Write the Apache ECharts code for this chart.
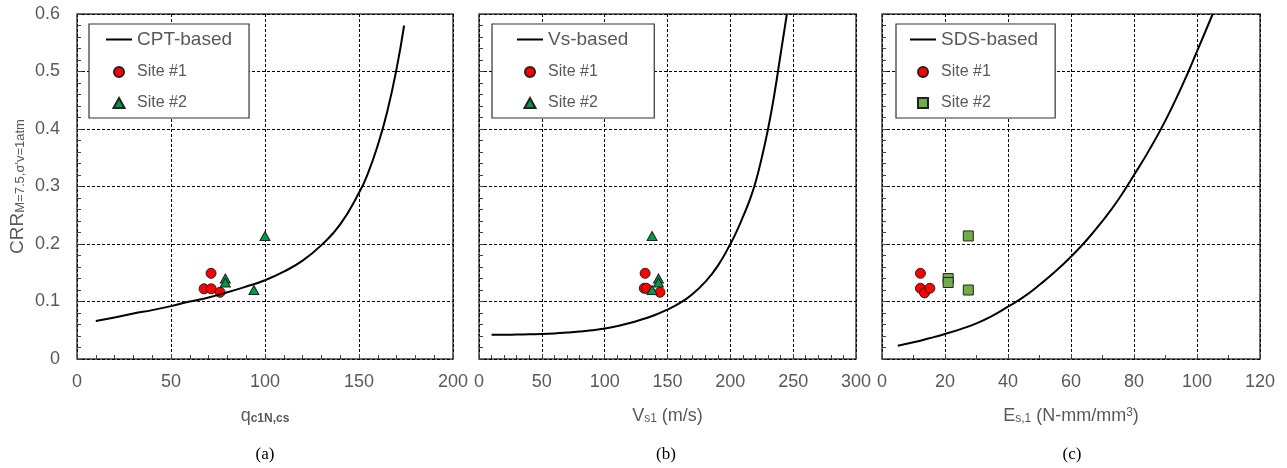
<!DOCTYPE html>
<html>
<head>
<meta charset="utf-8">
<script src="https://cdn.jsdelivr.net/npm/echarts@6/dist/echarts.min.js"></script>
<style>
  html, body { margin: 0; padding: 0; background: #fff; }
  #chart { width: 1287px; height: 468px; }
</style>
</head>
<body>
<div id="chart"></div>
<script>
// CRR axis (shared by all three panels)
const crrTicks = [0, 0.1, 0.2, 0.3, 0.4, 0.5, 0.6]

// (a) CPT-based
const qTicks = [0, 50, 100, 150, 200]
const cptCurve = [
    [10, 0.066], [20, 0.072], [30, 0.079], [40, 0.085], [50, 0.092], [60, 0.1],
    [70, 0.107], [80, 0.116], [90, 0.126], [100, 0.137], [110, 0.152], [120, 0.171],
    [130, 0.198], [140, 0.234], [150, 0.289], [155, 0.325], [160, 0.372], [165, 0.43],
    [170, 0.505], [174, 0.58]
]
const cptSite1 = [[67.6, 0.122], [71.4, 0.122], [71.3, 0.149], [76.1, 0.116]]
const cptSite2 = [[78.9, 0.14], [78.9, 0.133], [94.1, 0.12], [100, 0.214]]

// (b) Vs-based
const vsTicks = [0, 50, 100, 150, 200, 250, 300]
const vsCurve = [
    [10, 0.042], [20, 0.042], [30, 0.0425], [40, 0.043], [50, 0.0435], [60, 0.0445],
    [70, 0.046], [80, 0.0478], [90, 0.05], [100, 0.053], [110, 0.0572], [120, 0.0625],
    [130, 0.069], [140, 0.0765], [150, 0.086], [160, 0.0975], [170, 0.113], [180, 0.134],
    [190, 0.162], [200, 0.2], [205, 0.222], [210, 0.247], [215, 0.274], [220, 0.307],
    [225, 0.35], [230, 0.4], [235, 0.46], [240, 0.53], [245, 0.6]
]
const vsSite1 = [[131.5, 0.123], [133.2, 0.123], [132.2, 0.149], [144, 0.116]]
const vsSite2 = [[142.8, 0.14], [142.8, 0.133], [137.7, 0.12], [137.7, 0.214]]

// (c) SDS-based
const esTicks = [0, 20, 40, 60, 80, 100, 120]
const sdsCurve = [
    [5, 0.023], [10, 0.029], [15, 0.036], [20, 0.0435], [25, 0.052], [30, 0.062],
    [35, 0.075], [40, 0.091], [45, 0.108], [50, 0.129], [55, 0.152], [60, 0.178],
    [65, 0.207], [70, 0.24], [75, 0.277], [80, 0.32], [85, 0.365], [90, 0.415],
    [95, 0.472], [100, 0.535], [105, 0.6]
]
const sdsSite1 = [[12.2, 0.149], [12.2, 0.123], [13.5, 0.115], [15.2, 0.123]]
const sdsSite2 = [[27.4, 0.214], [21, 0.14], [21, 0.133], [27.4, 0.12]]

const FONT = 'Liberation Sans, Arial, sans-serif'
const GREY = '#595959'

const ICON_TRI = 'path://M5,0L10,9L0,9Z'
const ICON_SQR = 'path://M0,0H10V10H0Z'

const panels = [
    { left: 77, width: 376, ticks: qTicks, minor: 5, curve: cptCurve, s1: cptSite1, s2: cptSite2,
      curveName: 'CPT-based', s2Symbol: 'triangle', s2Icon: ICON_TRI, s2Color: '#009a49', showY: true,
      xName: '{m|q}{b|c1N,cs}', legendPad: [6, 17, 7, 16], legendLeft: 89, caption: '(a)', capX: 265 },
    { left: 479, width: 377, ticks: vsTicks, minor: 5, curve: vsCurve, s1: vsSite1, s2: vsSite2,
      curveName: 'Vs-based', s2Symbol: 'triangle', s2Icon: ICON_TRI, s2Color: '#009a49', showY: false,
      xName: '{m|V}{s|s1}{m| (m/s)}', legendPad: [6, 26, 7, 24], legendLeft: 492, caption: '(b)', capX: 666 },
    { left: 882, width: 378, ticks: esTicks, minor: 2, curve: sdsCurve, s1: sdsSite1, s2: sdsSite2,
      curveName: 'SDS-based', s2Symbol: 'rect', s2Icon: ICON_SQR, s2Color: '#70ad47', showY: false,
      xName: '{m|E}{s|s,1}{m| (N-mm/mm}{p|3}{m|)}', legendPad: [6, 17, 7, 13], legendLeft: 896, caption: '(c)', capX: 1072 }
]

const nameRich = {
    m: { fontSize: 18, color: GREY, fontFamily: FONT },
    s: { fontSize: 12, color: GREY, fontFamily: FONT, verticalAlign: 'bottom' },
    b: { fontSize: 12, color: GREY, fontFamily: FONT, fontWeight: 'bold', verticalAlign: 'bottom' },
    p: { fontSize: 12, color: GREY, fontFamily: FONT, verticalAlign: 'top' }
}

// series names must be unique, legend shows the plain text
const legendLabel = name => name.replace(/ \[[abc]\]$/, '')

const chart = echarts.init(document.getElementById('chart'))

let option = {
    animation: false,
    grid: [],
    xAxis: [],
    yAxis: [],
    legend: [],
    series: [],
    graphic: []
}

panels.forEach((p, i) => {
    const tag = ' [' + 'abc'[i] + ']'
    option.grid.push({
        left: p.left, top: 14, width: p.width, height: 345,
        show: true, borderColor: '#404040', borderWidth: 1.5, backgroundColor: 'transparent'
    })
    option.xAxis.push({
        type: 'value', gridIndex: i,
        min: p.ticks[0], max: p.ticks[p.ticks.length - 1], interval: p.ticks[1] - p.ticks[0],
        name: p.xName, nameLocation: 'middle', nameGap: 48,
        nameTextStyle: { rich: nameRich },
        axisLine: { show: false },
        axisTick: { show: true, inside: true, length: 5, lineStyle: { color: '#404040' } },
        minorTick: { show: true, splitNumber: p.minor, length: 4, lineStyle: { color: '#404040' } },
        axisLabel: { color: GREY, fontSize: 18, fontFamily: FONT, margin: 14 },
        splitLine: { show: true, lineStyle: { color: '#000', type: [3, 2], width: 1 } }
    })
    option.yAxis.push({
        type: 'value', gridIndex: i,
        min: crrTicks[0], max: crrTicks[crrTicks.length - 1], interval: crrTicks[1] - crrTicks[0],
        name: p.showY ? '{m|CRR}{s|M=7.5,σ\'v=1atm}' : '',
        nameLocation: 'middle', nameGap: 50, nameRotate: 90,
        nameTextStyle: {
            rich: {
                m: { fontSize: 19, color: GREY, fontFamily: FONT },
                s: { fontSize: 13, color: GREY, fontFamily: FONT, verticalAlign: 'bottom' }
            }
        },
        axisLine: { show: false },
        axisTick: { show: true, inside: true, length: 5, lineStyle: { color: '#404040' } },
        minorTick: { show: true, splitNumber: 5, length: 4, lineStyle: { color: '#404040' } },
        axisLabel: { show: p.showY, color: GREY, fontSize: 18, fontFamily: FONT, margin: 17 },
        splitLine: { show: true, lineStyle: { color: '#000', type: [3, 2], width: 1 } }
    })
    option.series.push({
        name: p.curveName, type: 'line', xAxisIndex: i, yAxisIndex: i,
        data: p.curve, smooth: 0.5, showSymbol: false, symbol: 'circle',
        lineStyle: { color: '#000', width: 2 },
        // transparent so the legend shows only the line
        itemStyle: { color: 'rgba(0,0,0,0)', borderWidth: 0 }
    })
    option.series.push({
        name: 'Site #1' + tag, type: 'scatter', xAxisIndex: i, yAxisIndex: i,
        data: p.s1, symbol: 'circle', symbolSize: 10,
        itemStyle: { color: '#ff0000', borderColor: '#222', borderWidth: 1, opacity: 1 }
    })
    option.series.push({
        name: 'Site #2' + tag, type: 'scatter', xAxisIndex: i, yAxisIndex: i,
        data: p.s2, symbol: p.s2Symbol, symbolSize: p.s2Symbol === 'rect' ? 10 : [10, 9],
        itemStyle: { color: p.s2Color, borderColor: '#222', borderWidth: 1, opacity: 1 }
    })
    option.legend.push({
        orient: 'vertical', left: p.legendLeft, top: 24,
        padding: p.legendPad, itemGap: 15, itemWidth: 26, itemHeight: 10,
        backgroundColor: '#fff', borderColor: '#333', borderWidth: 1.2,
        formatter: legendLabel,
        textStyle: { color: GREY, fontSize: 16, fontFamily: FONT },
        data: [
            { name: p.curveName, textStyle: { fontSize: 19 } },
            { name: 'Site #1' + tag, icon: 'circle' },
            { name: 'Site #2' + tag, icon: p.s2Icon }
        ]
    })
    option.graphic.push({
        type: 'text', x: p.capX, y: 455,
        style: {
            text: p.caption, fill: '#000', font: '17px "Liberation Serif", "Times New Roman", serif',
            textAlign: 'center', textVerticalAlign: 'middle'
        }
    })
})

chart.setOption(option)
</script>
</body>
</html>
